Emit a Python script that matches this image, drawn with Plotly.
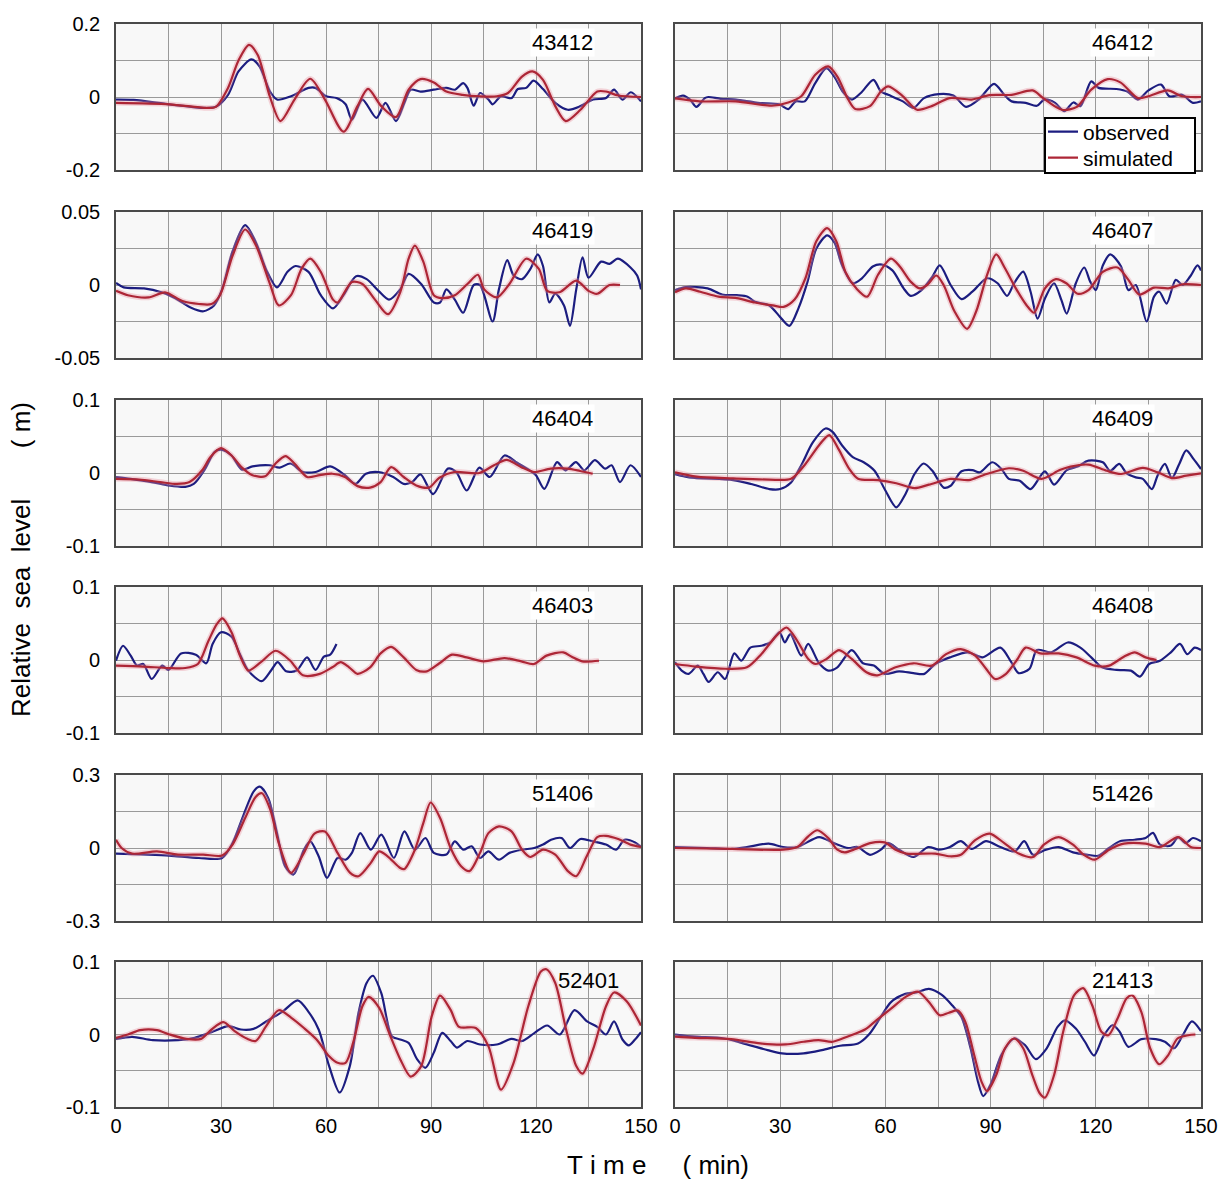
import plotly.graph_objects as go

# ---------------- data (time in min, relative sea level in m) ----------------
obs_43412 = [(0,-0.007),(5,-0.008),(15.3,-0.02),(25,-0.03),(28.5,-0.027),(32,0.006),(35,0.07),(38.7,0.103),(41,0.084),(44,0.015),(46,-0.007),(50,0.002),(55,0.025),(57,0.025),(60,0.002),(63,-0.003),(65.6,-0.02),(67.4,-0.062),(70.4,-0.007),(74.4,-0.057),(77,-0.016),(80,-0.066),(82.4,-0.016),(84.2,0.02),(87,0.015),(90.8,0.02),(94.4,0.025),(96.8,0.02),(99.2,0.038),(100.4,0.025),(102.2,-0.024),(104,0.011),(106.4,-0.007),(107.6,-0.02),(110,0.002),(113,-0.003),(114.8,0.022),(117.2,0.025),(119.3,0.045),(122,0.022),(125.5,-0.016),(129.1,-0.035),(132.7,-0.025),(136.3,-0.007),(140,-0.003),(142.3,0.02),(144.7,-0.007),(147.1,0.013),(150,-0.012)]
sim_43412 = [(0,-0.016),(15.3,-0.02),(26,-0.03),(28.5,-0.027),(32,0.025),(35,0.10),(38,0.143),(40.5,0.115),(44,0),(47,-0.066),(51,-0.007),(55.5,0.05),(59.7,-0.007),(65,-0.095),(69,-0.025),(72,0.022),(75.8,-0.025),(80,-0.055),(83.6,0.02),(87,0.049),(90.8,0.04),(94.4,0.015),(99,0.006),(104,0.002),(108.8,0.002),(112,0.011),(116,0.056),(119,0.07),(122,0.047),(125.5,-0.025),(128.5,-0.066),(132.7,-0.035),(137.5,0.015),(140,0.015),(143.5,0.004),(150,0)]

obs_46412 = [(0,-0.004),(2.3,0.004),(4.3,-0.007),(6.1,-0.027),(8.5,-0.003),(9.5,0),(13,-0.005),(17.3,-0.007),(23.5,-0.016),(29.7,-0.02),(32.3,-0.033),(34.4,-0.012),(37,-0.012),(40,0.038),(43.2,0.079),(45.7,0.052),(47.8,0.015),(50.4,-0.007),(53,0.011),(56.6,0.047),(58.7,0.015),(60.8,0.006),(65,-0.012),(68,-0.03),(71,-0.003),(75.2,0.008),(79.4,0.004),(83,-0.027),(86.6,-0.007),(91,0.036),(93.9,0.006),(96,-0.012),(100,-0.016),(103.2,-0.024),(105.3,-0.007),(108.4,-0.016),(111,-0.039),(113.6,-0.015),(115.6,-0.025),(118.7,0.043),(120.8,0.025),(125.9,0.022),(129,0.015),(132,-0.007),(135,0.018),(138.6,0.034),(141,0.002),(144.6,0.006),(147.7,-0.016),(150,-0.012)]
sim_46412 = [(0,-0.004),(7,-0.012),(17.3,-0.012),(27.6,-0.024),(32.3,-0.015),(36,0.002),(40,0.061),(43.7,0.084),(46.3,0.056),(49.4,-0.007),(51.4,-0.033),(55.6,-0.025),(58.7,0.015),(60.8,0.029),(65,0.002),(69,-0.035),(73.2,-0.025),(78.3,-0.003),(84.6,-0.007),(89.7,0.005),(96,0.006),(102,0.018),(105,-0.003),(110.4,-0.035),(114.6,-0.027),(118.7,0.02),(123.4,0.049),(127,0.04),(132,-0.003),(135,0.002),(140.5,0.018),(144.6,0.002),(150,0)]

obs_46419 = [(0,0.0014),(2.2,-0.0016),(8,-0.0023),(13,-0.005),(16.5,-0.0085),(21.3,-0.0154),(25,-0.018),(28,-0.014),(30.3,-0.003),(33.3,0.023),(36.9,0.041),(40,0.029),(43,0.01),(46,-0.0016),(49,0.009),(51.3,0.013),(55,0.009),(58.5,-0.007),(62,-0.016),(65,-0.007),(68.6,0.006),(71.6,0.004),(75,-0.004),(78,-0.01),(81.2,-0.003),(83.6,0.0076),(87.2,0.0007),(90.8,-0.012),(92.6,-0.012),(94.4,-0.003),(96.8,-0.01),(99.2,-0.019),(102.2,0),(104,0),(107.6,-0.025),(109.4,-0.003),(111.8,0.017),(113.6,0.0065),(116,0.004),(118.4,0.011),(120.5,0.021),(122,0.013),(123.8,-0.012),(125.5,-0.006),(128,-0.014),(129.7,-0.028),(131.5,-0.003),(133.3,0.019),(135,0.005),(138.6,0.016),(141,0.0145),(143.4,0.018),(147,0.012),(148.9,0.0065),(150,-0.003)]
sim_46419 = [(0,-0.004),(3.4,-0.007),(9.3,-0.0085),(14,-0.005),(19,-0.011),(23.7,-0.013),(27.3,-0.013),(29.7,-0.007),(33.3,0.02),(36.9,0.038),(40,0.027),(44,0.0007),(46.5,-0.014),(50,-0.007),(53,0.011),(55.5,0.018),(58.5,0.009),(62,-0.01),(63.3,-0.012),(67.4,0.002),(70.4,0.0007),(74,-0.01),(77.7,-0.02),(81.2,-0.005),(83.6,0.018),(85.4,0.027),(87.8,0.016),(90.8,-0.007),(93.2,-0.009),(96.8,-0.007),(100.4,0.0007),(103.4,0.007),(105.2,-0.003),(108.8,-0.0085),(112.4,0.0007),(117.2,0.018),(120.8,0.011),(123.2,-0.004),(126.7,-0.005),(131.5,0.003),(135,-0.004),(137.5,-0.006),(141,0),(144,0)]

obs_46407 = [(0,-0.0035),(3.1,-0.0014),(9.3,-0.0023),(13.4,-0.0065),(17.6,-0.007),(20.7,-0.008),(22.8,-0.0115),(26.9,-0.014),(30,-0.022),(32.6,-0.028),(35.2,-0.016),(37.8,0.0023),(40.3,0.025),(43.4,0.034),(45.5,0.029),(47.6,0.0138),(50.7,0.0012),(53.3,0.0046),(56.4,0.0127),(59,0.014),(62,0.01),(65.2,-0.0023),(67.2,-0.0074),(70.3,-0.0035),(73.4,0.0058),(75.5,0.0134),(78.6,0),(81.7,-0.0097),(84.8,-0.0046),(89,0.0046),(92,0.0012),(94.7,-0.0074),(96.7,0.0012),(99.3,0.0092),(101.4,-0.0046),(103.4,-0.023),(105.5,-0.0092),(108.1,0.0012),(110.2,-0.0104),(111.7,-0.0196),(114.3,0.0012),(116.7,0.012),(118.4,0.0023),(120,-0.0035),(122,0.0134),(124.1,0.021),(127.2,0.0127),(129.3,-0.0035),(131.4,0),(134.5,-0.025),(136.6,-0.008),(138.1,-0.0046),(140.2,-0.0127),(142.8,0.0035),(144.8,0),(146.9,0.0058),(149,0.0134),(150,0.01)]
sim_46407 = [(0,-0.005),(3.1,-0.0023),(7.2,-0.0046),(12.4,-0.008),(17.6,-0.009),(22.8,-0.012),(27.9,-0.014),(31,-0.015),(34.1,-0.01),(37.2,0.0046),(40.3,0.03),(43.4,0.039),(46,0.03),(48.6,0.009),(51.7,-0.0023),(54.8,-0.008),(57.9,0.007),(61.6,0.018),(64.1,0.0127),(67.2,0.0023),(69.8,-0.0023),(71.9,0),(74.5,0.0065),(76.6,0),(79.7,-0.018),(83.3,-0.03),(85.9,-0.018),(89,0.007),(91.6,0.021),(94.1,0.0115),(97.2,-0.0023),(100.3,-0.014),(102.4,-0.019),(105.5,-0.0023),(108.6,0.004),(111.7,0.001),(114.8,-0.006),(117.9,-0.0035),(122,0.009),(126.2,0.012),(129.3,0.0035),(132.4,-0.0065),(136.6,-0.0018),(140.7,-0.0023),(144.8,0.0005),(150,0)]

obs_46404 = [(0,-0.0055),(4.2,-0.008),(10.2,-0.0124),(15,-0.017),(19.8,-0.019),(22.2,-0.015),(25.2,0.0037),(28.2,0.029),(30,0.032),(33,0.024),(36,0.0046),(39,0.009),(43.8,0.0106),(46.8,0.0074),(49.8,0.013),(53.4,0.0014),(57,0.0014),(61.2,0.009),(65.4,-0.003),(68.4,-0.015),(71.4,-0.001),(75,0.0014),(79.2,-0.0055),(82.2,-0.015),(84.6,-0.0124),(87,-0.002),(90.6,-0.029),(94.8,0.006),(97.2,0.0014),(100.2,-0.024),(103.8,0.0074),(106.8,-0.0055),(111,0.024),(114.6,0.014),(118.2,0.0037),(120,-0.003),(122.4,-0.0217),(126,0.015),(128.4,0.0037),(131.4,0.015),(133.8,0.0037),(136.8,0.0175),(139.8,0.006),(141.6,0.0106),(144,-0.0124),(147,0.0106),(150,-0.0055)]
sim_46404 = [(0,-0.008),(6.6,-0.009),(12.6,-0.0124),(17.4,-0.015),(21,-0.0124),(24.6,0.0037),(27,0.022),(30,0.034),(33,0.024),(36,0.0074),(39,-0.003),(42.6,-0.0046),(45.6,0.013),(48.4,0.023),(51,0.013),(54.6,-0.0055),(58.2,-0.003),(61.8,-0.001),(65.4,-0.0055),(69,-0.018),(72.6,-0.02),(75.6,-0.0124),(78.6,0.008),(82.2,-0.0055),(85.8,-0.017),(89.4,-0.02),(92.4,-0.0065),(96.6,0.0014),(103.8,0),(108,0.0106),(111.6,0.018),(115.8,0.008),(119.4,0.0014),(124.2,0.006),(129,0.006),(132.6,0.0028),(136.2,-0.001)]

obs_46409 = [(0,-0.0014),(4.1,-0.006),(16.6,-0.0097),(21.7,-0.015),(26.9,-0.022),(30,-0.022),(33.1,-0.013),(36.2,0.0124),(39.3,0.042),(42.9,0.061),(45,0.056),(47.6,0.038),(50.7,0.0217),(53.8,0.0147),(56.9,0.003),(60,-0.024),(63.1,-0.047),(65.7,-0.029),(68.3,-0.0014),(70.9,0.013),(73.4,0.003),(76.6,-0.02),(78.6,-0.0175),(81.7,0.0023),(84.8,0.004),(86.9,0.001),(90.5,0.0147),(93.1,0.0055),(95.2,-0.008),(98.3,-0.0106),(101.4,-0.022),(105.5,0.0023),(108.1,-0.016),(111.7,0.004),(114.8,0.0088),(117.9,0.017),(122,0.0147),(124.1,0.003),(126.7,0.0124),(128.8,-0.0005),(131.4,-0.006),(133.4,-0.008),(136,-0.022),(137.6,-0.0037),(139.7,0.0124),(141.7,-0.007),(143.8,0.0124),(145.8,0.031),(147.9,0.019),(150,0.0055)]
sim_46409 = [(0,0.001),(6.2,-0.005),(16.6,-0.0074),(26.9,-0.009),(33.1,-0.008),(37.2,0.0124),(41.4,0.04),(44,0.052),(46.6,0.033),(49.7,0.0055),(52.2,-0.008),(57.9,-0.0097),(63.1,-0.014),(68.3,-0.0207),(72.4,-0.016),(78.6,-0.008),(83.8,-0.0097),(87.9,-0.003),(95.2,0.0065),(99.3,0.003),(104.5,-0.008),(109.7,0.004),(112.8,0.0088),(117.9,0.0115),(123.1,0.003),(127.2,-0.0014),(133.4,0.007),(137.6,0.001),(141.7,-0.007),(145.8,-0.0037),(150,-0.0005)]

obs_46403 = [(0,-0.001),(2,0.0195),(4.2,0.006),(6,-0.0077),(7.8,-0.0055),(10.2,-0.026),(13.2,-0.0077),(15,-0.0136),(18.6,0.009),(22.8,0.0073),(25.8,-0.0045),(27.6,0.022),(30,0.038),(33,0.032),(35.4,0.008),(37.8,-0.0145),(41.6,-0.029),(44.4,-0.0136),(46.2,-0.003),(48.6,-0.0155),(51.6,-0.0145),(54.6,0.0036),(57,-0.0136),(59.4,0.0045),(61.2,0.0073),(63,0.022)]
sim_46403 = [(0,-0.0077),(7.8,-0.009),(15,-0.011),(19.8,-0.011),(23.4,-0.0055),(26.4,0.026),(28.8,0.049),(30.4,0.057),(33,0.038),(35.4,0.006),(37.8,-0.0145),(41.4,-0.003),(45.6,0.0127),(49.8,-0.001),(53.4,-0.021),(58.2,-0.019),(61.8,-0.01),(64.2,-0.003),(66.6,-0.01),(69,-0.019),(72.6,-0.01),(75.6,0.009),(78.6,0.018),(82.2,0.0036),(85.8,-0.0136),(88.8,-0.0155),(92.4,-0.0045),(96,0.0073),(100.2,0.0036),(105,-0.0018),(111,0.0027),(115.8,-0.0018),(119.4,-0.0055),(123,0.006),(127.8,0.0105),(130.2,0.0045),(133.2,-0.0018),(138,-0.001)]

obs_46408 = [(0,-0.003),(1.9,-0.0145),(3.9,-0.019),(6.5,-0.0077),(8.1,-0.019),(9.6,-0.03),(12.2,-0.0168),(14.3,-0.026),(16.9,0.009),(18.9,-0.001),(21.5,0.017),(24.6,0.0195),(27.2,0.024),(29.8,0.038),(31.3,0.024),(32.9,0.0355),(36,0.006),(38,0.022),(41.1,-0.0045),(43.7,-0.0145),(46.3,-0.01),(50.4,0.0136),(53.6,-0.0045),(56.7,-0.0077),(59.8,-0.019),(63.9,-0.0155),(68,-0.018),(71.1,-0.019),(74.2,-0.0055),(78.4,0.0036),(83.5,0.0105),(87.7,0.0036),(92.8,0.017),(95.9,-0.003),(98,-0.018),(101.1,-0.012),(103.2,0.0136),(107.3,0.0105),(112,0.024),(115.6,0.017),(118.7,0.0036),(121.8,-0.01),(125.9,-0.0136),(130,-0.0145),(132.6,-0.0227),(135.2,-0.0055),(138.3,-0.001),(141.4,0.0105),(144,0.022),(146.1,0.008),(148.2,0.017),(150,0.0136)]
sim_46408 = [(0,-0.0055),(6,-0.009),(14.3,-0.012),(20.5,-0.01),(24.6,0.008),(28.7,0.032),(31.8,0.0445),(34.9,0.026),(38,0.0014),(40.1,-0.0055),(43.2,0.0014),(46.8,0.0136),(50.4,0.0014),(54.6,-0.0168),(57.7,-0.021),(62.9,-0.01),(68,-0.0045),(73.2,-0.0077),(77.3,0.008),(81.5,0.015),(85.6,0.006),(88.7,-0.012),(91.3,-0.026),(94.4,-0.019),(97.5,0),(100,0.017),(104.2,0.009),(109.4,0.009),(114.5,0.0036),(119.7,-0.0077),(123.8,-0.0077),(128,0.0045),(131.1,0.0105),(134.2,0.0036),(137.3,0)]

obs_51406 = [(0,-0.023),(9.3,-0.027),(15.3,-0.031),(23.7,-0.041),(30.3,-0.041),(33.3,0.02),(36.3,0.13),(39.3,0.232),(41.1,0.252),(43.5,0.205),(46,0.061),(48.3,-0.075),(50.7,-0.109),(53.7,-0.007),(55.5,0.027),(57.9,-0.034),(60.3,-0.123),(63.3,-0.041),(65.6,-0.048),(67.4,-0.02),(69.8,0.061),(72.8,-0.007),(75.8,0.055),(79.4,-0.041),(82.4,0.068),(85.4,-0.007),(88.4,0.041),(90.8,-0.02),(94.4,-0.027),(96.8,0.027),(99.2,-0.007),(101.6,0.007),(104,-0.041),(106.4,-0.014),(109.4,-0.048),(112.4,-0.02),(116,-0.007),(119.5,0),(122,0.014),(124.3,0.034),(127.3,0.041),(129.7,0),(132.7,0.037),(136.3,0.027),(140,0.014),(142.9,-0.007),(145.3,0.034),(148.3,0.023),(150,0.004)]
sim_51406 = [(0,0.034),(1.6,0),(4.6,-0.023),(11.7,-0.014),(17.7,-0.027),(24.9,-0.027),(30.3,-0.031),(33.3,0.014),(36.9,0.123),(39.9,0.21),(41.7,0.225),(44.1,0.157),(46.5,0.02),(50,-0.102),(53.7,-0.02),(56.7,0.059),(59.7,0.068),(63.3,-0.02),(66.9,-0.102),(69.3,-0.116),(72.8,-0.061),(75.2,-0.014),(77.6,-0.034),(81.2,-0.082),(82.4,-0.086),(85.4,-0.007),(87.8,0.102),(89.9,0.187),(92.6,0.123),(95.6,0),(98.6,-0.075),(101,-0.095),(104,-0.02),(106.4,0.061),(109.4,0.089),(113,0.068),(116,-0.007),(118.4,-0.037),(122,-0.007),(125.5,-0.027),(129.1,-0.095),(131.5,-0.116),(134.5,-0.034),(137.5,0.045),(140,0.05),(143.5,0.037),(147,0.014),(150,0.004)]

obs_51426 = [(0,0.004),(9.1,0),(16.3,-0.004),(20.5,0.004),(26.7,0.018),(30.8,0.004),(34.9,0.004),(41.1,0.045),(45.3,0.02),(49.4,0),(52,0.004),(55.6,-0.028),(58.7,-0.007),(60.8,0.02),(63.9,-0.007),(68,-0.037),(72.2,0.004),(75.3,-0.007),(78.4,0.004),(81.5,0.028),(84.6,-0.004),(88.7,0.028),(92.8,0.004),(96.9,-0.014),(99.6,0.028),(102.1,-0.028),(105.2,-0.01),(109.4,0.004),(113.5,-0.018),(117.7,-0.028),(120.7,-0.032),(123.8,0),(126.9,0.028),(131.1,0.034),(134.2,0.041),(136.3,0.062),(138.3,0.014),(141.4,0.01),(143.5,0.045),(145.6,0.02),(147.7,0.041),(150,0.028)]
sim_51426 = [(0,0),(16.3,-0.004),(30.8,-0.007),(34.9,0.004),(38,0.048),(40.6,0.073),(43.7,0.041),(46.3,-0.007),(48.4,-0.018),(51.5,-0.004),(55.6,0.02),(59.8,0.023),(62.9,-0.007),(66,-0.023),(74.2,-0.023),(78.4,-0.034),(81.5,-0.028),(85.6,0.032),(89.7,0.059),(93.9,0.02),(98,-0.023),(102.1,-0.037),(105.2,0.014),(109.4,0.045),(113.5,0.014),(116.6,-0.028),(119.7,-0.048),(123.8,-0.007),(128,0.018),(134.2,0.018),(138.3,0.004),(143.5,0.045),(147.1,0.004),(150,0)]

obs_52401 = [(0,-0.006),(4.6,-0.0032),(10.5,-0.0078),(17.7,-0.0078),(22.5,-0.0046),(27.3,0.0032),(32.1,0.0115),(35.7,0.0069),(39.3,0.0078),(42.9,0.018),(47.7,0.032),(51.9,0.047),(54.9,0.032),(57.9,0.0069),(60.9,-0.0436),(63.9,-0.08),(66.8,-0.0436),(69.3,0.03),(71.6,0.071),(73.4,0.081),(75.8,0.057),(78.8,-0.0023),(81.2,-0.0069),(83.6,-0.0115),(86,-0.034),(88.4,-0.0459),(90.8,-0.025),(93.2,0.0023),(95.6,-0.009),(97.4,-0.018),(100.4,-0.009),(104,-0.0138),(108.8,-0.0138),(113,-0.006),(116,-0.009),(119.6,0.0023),(123.2,0.0124),(126.8,0),(131,0.0335),(134.6,0.018),(137.5,0.0106),(140,0),(142.3,0.018),(144.7,-0.0069),(146.5,-0.015),(148.3,-0.0069),(150,0.0032)]
sim_52401 = [(0,-0.0046),(3.4,0),(6.9,0.006),(11.7,0.006),(15.3,0),(20.1,-0.006),(24.3,-0.006),(27.3,0.0069),(30.7,0.017),(33.9,0.0046),(37.5,-0.006),(39.9,-0.009),(42.9,0.0115),(46.5,0.0335),(50.1,0.023),(53.7,0.009),(57.3,-0.0069),(60.9,-0.03),(63.3,-0.039),(65.6,-0.039),(68,-0.0069),(70.4,0.039),(72.2,0.052),(75.2,0.0367),(78.2,0),(81.2,-0.034),(84.2,-0.058),(87.2,-0.0436),(90.2,0.025),(92.6,0.0537),(95.6,0.034),(98,0.0106),(102.8,0.009),(106.4,-0.016),(110,-0.076),(113.6,-0.039),(117.8,0.039),(121.4,0.087),(123,0.09),(125.5,0.071),(128.5,0.009),(131.5,-0.0436),(133.3,-0.054),(136.3,-0.0206),(140,0.039),(142.3,0.058),(145.9,0.046),(150,0.0124)]

obs_21413 = [(0,0),(5.7,-0.003),(14,-0.0055),(21.2,-0.0146),(26.4,-0.0215),(30.5,-0.026),(36.7,-0.026),(41.9,-0.0215),(47.1,-0.0155),(52.2,-0.0123),(55.3,0),(58.5,0.0228),(61.6,0.0447),(65.7,0.056),(68.8,0.058),(72.4,0.063),(76,0.055),(79.1,0.04),(81.7,0.024),(84.3,-0.019),(86.4,-0.065),(87.9,-0.085),(90,-0.069),(93.1,-0.028),(96.7,-0.0055),(99.8,-0.0146),(102.9,-0.034),(106,-0.019),(109.1,0.0105),(111.2,0.0196),(114.3,0.0082),(116.9,-0.01),(119.5,-0.029),(122.1,-0.003),(124.7,0.0128),(126.7,0.0046),(129.3,-0.017),(133,-0.0064),(137.1,-0.0064),(139.7,-0.01),(142.3,-0.019),(144.8,-0.001),(147.4,0.018),(150,0.0046)]
sim_21413 = [(0,-0.003),(5.7,-0.0046),(16,-0.0064),(24.3,-0.0123),(31.6,-0.0137),(36.7,-0.01),(40.9,-0.0078),(45,-0.01),(49.1,-0.003),(54.3,0.0073),(57.4,0.0196),(61.6,0.0356),(65.7,0.0516),(69.3,0.059),(72.4,0.045),(75.5,0.0265),(78.1,0.03),(80.7,0.033),(82.8,0.0174),(85.3,-0.028),(87.4,-0.065),(89,-0.078),(91.6,-0.056),(94.1,-0.019),(96.7,-0.0055),(99.3,-0.019),(101.9,-0.056),(104,-0.081),(105.5,-0.087),(108.1,-0.056),(110.7,0.0037),(113.8,0.054),(116.4,0.064),(119,0.04),(121.6,0.0037),(123.6,-0.001),(126.2,0.022),(128.8,0.05),(130.4,0.054),(133,0.031),(135.5,-0.019),(138.1,-0.041),(140.7,-0.028),(143.3,-0.0055),(146.4,-0.001),(148.4,0)]

stations = [["43412", "46412"], ["46419", "46407"], ["46404", "46409"],
            ["46403", "46408"], ["51406", "51426"], ["52401", "21413"]]
observed = {"43412": obs_43412, "46412": obs_46412, "46419": obs_46419, "46407": obs_46407,
            "46404": obs_46404, "46409": obs_46409, "46403": obs_46403, "46408": obs_46408,
            "51406": obs_51406, "51426": obs_51426, "52401": obs_52401, "21413": obs_21413}
simulated = {"43412": sim_43412, "46412": sim_46412, "46419": sim_46419, "46407": sim_46407,
             "46404": sim_46404, "46409": sim_46409, "46403": sim_46403, "46408": sim_46408,
             "51406": sim_51406, "51426": sim_51426, "52401": sim_52401, "21413": sim_21413}
row_limits = [0.2, 0.05, 0.1, 0.1, 0.3, 0.1]
row_tick_text = [["-0.2", "0", "0.2"], ["-0.05", "0", "0.05"], ["-0.1", "0", "0.1"],
                 ["-0.1", "0", "0.1"], ["-0.3", "0", "0.3"], ["-0.1", "0", "0.1"]]
x_tick_labels = ["0", "30", "60", "90", "120", "150"]

# ---------------- layout geometry (pixels) ----------------
W, H = 1229, 1182
col_px = [(116, 641), (675, 1201)]
row_px = [(24, 170), (212, 358), (400, 546), (587, 733), (775, 921), (962, 1107)]
legend_box_px = (1045, 118, 1195, 173)   # left, top, right, bottom
legend_rows_px = (132, 158)

FONT = "Liberation Sans, Arial, Helvetica, sans-serif"
OBS_COLOR = "#1c1d80"
SIM_COLOR = "#ad2636"
GLOW = "rgba(232,140,155,0.35)"

fig = go.Figure()

xt_vals = [i * 15 for i in range(11)]

k = 0
for r in range(6):
    for c in range(2):
        k += 1
        st = stations[r][c]
        xa = "x" if k == 1 else f"x{k}"
        ya = "y" if k == 1 else f"y{k}"
        ot = [p[0] for p in observed[st]]
        ov = [p[1] for p in observed[st]]
        stt = [p[0] for p in simulated[st]]
        sv = [p[1] for p in simulated[st]]
        fig.add_trace(go.Scatter(x=ot, y=ov, mode="lines", xaxis=xa, yaxis=ya,
                                 line=dict(color=OBS_COLOR, width=2.2, shape="spline", smoothing=0.8),
                                 name="observed", showlegend=(k == 1), legend="legend"))
        fig.add_trace(go.Scatter(x=stt, y=sv, mode="lines", xaxis=xa, yaxis=ya,
                                 line=dict(color=GLOW, width=5.5, shape="spline", smoothing=0.8),
                                 showlegend=False, hoverinfo="skip"))
        fig.add_trace(go.Scatter(x=stt, y=sv, mode="lines", xaxis=xa, yaxis=ya,
                                 line=dict(color=SIM_COLOR, width=2.2, shape="spline", smoothing=0.8),
                                 name="simulated", showlegend=(k == 1), legend="legend2"))

        lim = row_limits[r]
        x0, x1 = col_px[c]
        yt, yb = row_px[r]
        yvals = [-lim, -lim / 2, 0, lim / 2, lim]
        tt = row_tick_text[r]
        ytext = [tt[0], "", tt[1], "", tt[2]] if c == 0 else [""] * 5
        if r == 5:
            xtext = [x_tick_labels[i // 2] if i % 2 == 0 else "" for i in range(11)]
        else:
            xtext = [""] * 11
        axname_x = "xaxis" if k == 1 else f"xaxis{k}"
        axname_y = "yaxis" if k == 1 else f"yaxis{k}"
        fig.update_layout(**{
            axname_x: dict(domain=[x0 / W, x1 / W], range=[0, 150], anchor=ya,
                           tickmode="array", tickvals=xt_vals, ticktext=xtext,
                           showgrid=True, gridcolor="#9a9a9a", gridwidth=1.3,
                           zeroline=False, showline=True, linecolor="#4a4a4a", linewidth=1.6,
                           mirror=True, ticks="",
                           tickfont=dict(family=FONT, size=20, color="black"),
                           automargin=False, fixedrange=True),
            axname_y: dict(domain=[1 - yb / H, 1 - yt / H], range=[-lim, lim], anchor=xa,
                           tickmode="array", tickvals=yvals, ticktext=ytext,
                           showgrid=True, gridcolor="#9a9a9a", gridwidth=1.3,
                           zeroline=False, showline=True, linecolor="#4a4a4a", linewidth=1.6,
                           mirror=True, ticks="outside", ticklen=10, tickcolor="rgba(0,0,0,0)",
                           tickfont=dict(family=FONT, size=20, color="black"),
                           automargin=False, fixedrange=True),
        })
        lab_x = 135 if st == "52401" else 127.5
        lab_bg = "rgba(0,0,0,0)" if st == "52401" else "white"
        fig.add_annotation(x=lab_x, y=0.74 * lim, xref=xa, yref=ya, text=st,
                           xanchor="center", yanchor="middle",
                           showarrow=False, bgcolor=lab_bg, borderpad=1,
                           font=dict(family=FONT, size=22, color="black"))

sp = "\u00a0"
fig.add_annotation(x=21 / W, y=1 - 560 / H, xref="paper", yref="paper",
                   xanchor="center", yanchor="middle",
                   text=f"Relative{sp*2}sea{sp*2}level{sp*7}({sp}m)", textangle=-90,
                   showarrow=False, font=dict(family=FONT, size=26, color="black"))
fig.add_annotation(x=658 / W, y=1 - 1165 / H, xref="paper", yref="paper",
                   xanchor="center", yanchor="middle",
                   text=f"T{sp}i{sp}m{sp}e{sp*5}({sp}min)",
                   showarrow=False, font=dict(family=FONT, size=26, color="black"))

# legend frame (white box with black border) behind the two legend rows
lb = legend_box_px
fig.add_shape(type="rect", xref="paper", yref="paper",
              x0=lb[0] / W, x1=lb[2] / W, y0=1 - lb[3] / H, y1=1 - lb[1] / H,
              line=dict(color="black", width=2), fillcolor="white", layer="above")

leg_common = dict(x=(lb[0] - 2) / W, xanchor="left", yanchor="middle",
                  bgcolor="rgba(0,0,0,0)", borderwidth=0,
                  font=dict(family=FONT, size=21, color="black"), itemwidth=30)

fig.update_layout(
    width=W, height=H, autosize=False,
    margin=dict(l=0, r=0, t=0, b=0, pad=0, autoexpand=False),
    paper_bgcolor="white", plot_bgcolor="#f8f8f8",
    showlegend=True,
    legend=dict(y=1 - legend_rows_px[0] / H, **leg_common),
    legend2=dict(y=1 - legend_rows_px[1] / H, **leg_common),
)

fig.write_html("out.html")
